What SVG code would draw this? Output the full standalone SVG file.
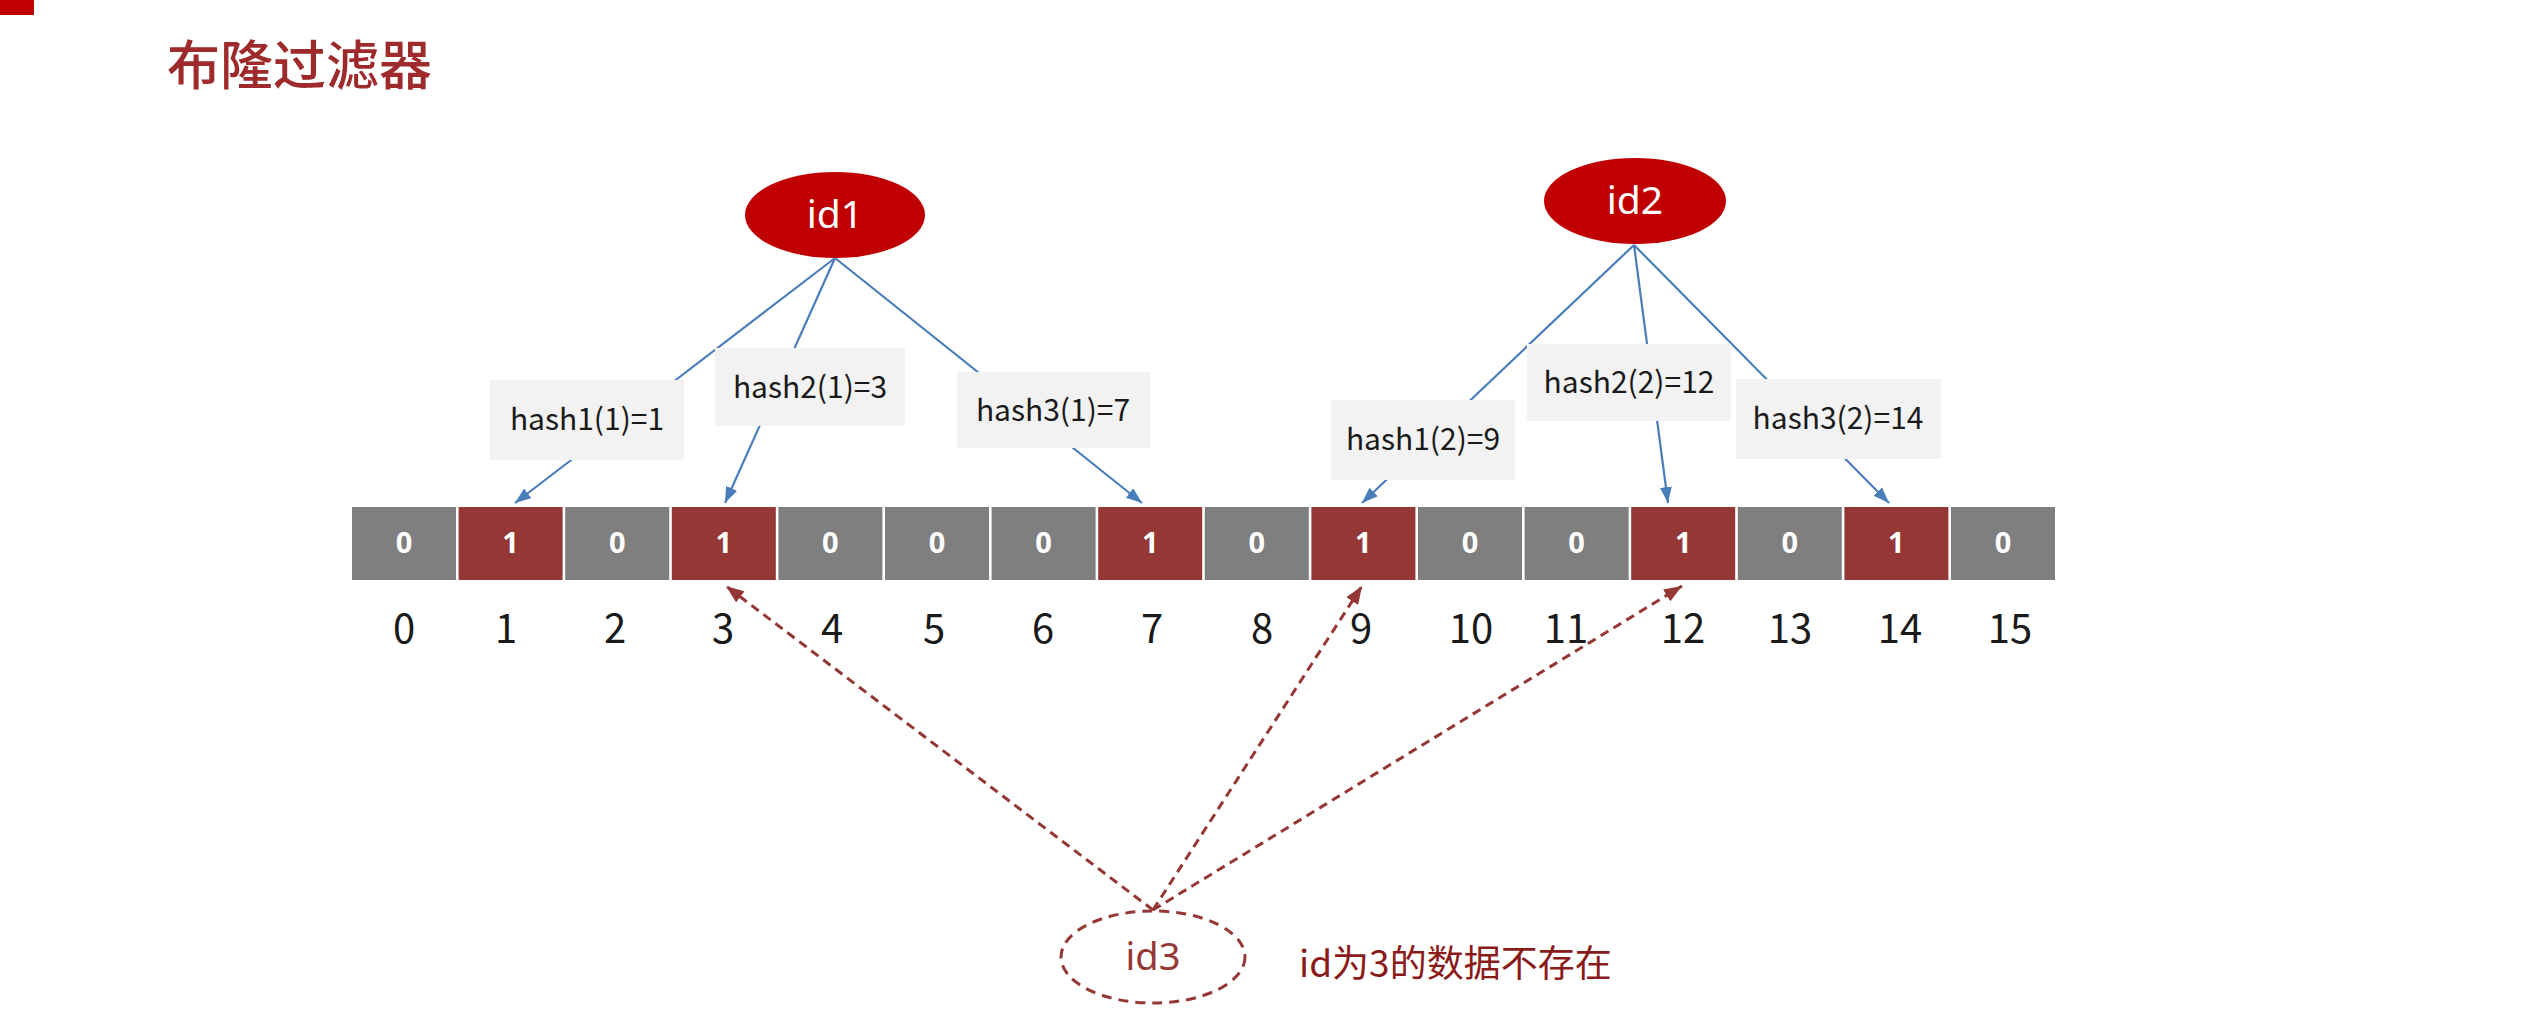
<svg xmlns="http://www.w3.org/2000/svg" width="2546" height="1013" viewBox="0 0 2546 1013">
<style>
  .cjk { font-family: "Noto Sans CJK SC", "Noto Sans", sans-serif; }
  .cell0 { fill: #7F7F7F; }
  .cell1 { fill: #953735; }
  .bit { font-family: "Noto Sans", "Noto Sans CJK SC", sans-serif; font-size: 29px; font-weight: bold; fill: #FFFFFF; text-anchor: middle; }
  .idx { font-family: "Noto Sans CJK SC", "Noto Sans", sans-serif; font-size: 40px; fill: #1A1A1A; text-anchor: middle; }
  .lbox { fill: #F2F2F2; }
  .ltxt { font-family: "Noto Sans CJK SC", "Noto Sans", sans-serif; font-size: 30px; fill: #1A1A1A; text-anchor: middle; }
  .blue { stroke: #4A7EBB; stroke-width: 2.2; fill: none; marker-end: url(#ab); }
  .dash { stroke: #953735; stroke-width: 3; fill: none; stroke-dasharray: 9 6; marker-end: url(#ar); }
  .idnode { fill: #C00000; }
  .idtxt { font-family: "Noto Sans", "Noto Sans CJK SC", sans-serif; font-size: 39px; fill: #FFFFFF; text-anchor: middle; }
</style>
<defs>
  <marker id="ab" markerUnits="userSpaceOnUse" markerWidth="16" markerHeight="12" refX="16" refY="6" orient="auto">
    <path d="M0,0 L16,6 L0,12 z" fill="#4A7EBB"/>
  </marker>
  <marker id="ar" markerUnits="userSpaceOnUse" markerWidth="18" markerHeight="14" refX="18" refY="7" orient="auto">
    <path d="M0,0 L18,7 L0,14 z" fill="#953735"/>
  </marker>
</defs>
<rect x="0" y="0" width="34" height="15" fill="#C00000"/>
<text class="cjk" x="167" y="85" font-size="53" font-weight="500" fill="#9E2A2B">布隆过滤器</text>

<g id="connectors">
  <line class="blue" x1="835" y1="258" x2="515" y2="503"/>
  <line class="blue" x1="835" y1="258" x2="725" y2="503"/>
  <line class="blue" x1="835" y1="258" x2="1142" y2="503"/>
  <line class="blue" x1="1634" y1="245" x2="1362" y2="503"/>
  <line class="blue" x1="1634" y1="245" x2="1668" y2="503"/>
  <line class="blue" x1="1634" y1="245" x2="1889" y2="503"/>
  <line class="dash" x1="1153" y1="910" x2="726" y2="586"/>
  <line class="dash" x1="1153" y1="910" x2="1362" y2="586"/>
  <line class="dash" x1="1153" y1="910" x2="1682" y2="586"/>
</g>

<g id="id1"><ellipse class="idnode" cx="835" cy="215" rx="90" ry="43"/><text class="idtxt" x="835" y="228">id1</text></g>
<g id="id2"><ellipse class="idnode" cx="1635" cy="201" rx="91" ry="43"/><text class="idtxt" x="1635" y="214">id2</text></g>

<g id="h11"><rect class="lbox" x="490" y="380" width="194" height="80"/><text class="ltxt" x="587" y="430">hash1(1)=1</text></g>
<g id="h21"><rect class="lbox" x="715" y="348" width="190" height="78"/><text class="ltxt" x="810" y="398">hash2(1)=3</text></g>
<g id="h31"><rect class="lbox" x="957" y="372" width="193" height="76"/><text class="ltxt" x="1053" y="421">hash3(1)=7</text></g>
<g id="h12"><rect class="lbox" x="1331" y="400" width="184" height="80"/><text class="ltxt" x="1423" y="450">hash1(2)=9</text></g>
<g id="h22"><rect class="lbox" x="1527" y="344" width="204" height="77"/><text class="ltxt" x="1629" y="393">hash2(2)=12</text></g>
<g id="h32"><rect class="lbox" x="1736" y="379" width="205" height="80"/><text class="ltxt" x="1838" y="429">hash3(2)=14</text></g>

<g id="array">
  <rect class="cell0" x="352" y="507" width="104" height="73"/><text class="bit" x="404" y="553">0</text>
  <rect class="cell1" x="458.6" y="507" width="104" height="73"/><text class="bit" x="510.6" y="553">1</text>
  <rect class="cell0" x="565.2" y="507" width="104" height="73"/><text class="bit" x="617.2" y="553">0</text>
  <rect class="cell1" x="671.8" y="507" width="104" height="73"/><text class="bit" x="723.8" y="553">1</text>
  <rect class="cell0" x="778.4" y="507" width="104" height="73"/><text class="bit" x="830.4" y="553">0</text>
  <rect class="cell0" x="885" y="507" width="104" height="73"/><text class="bit" x="937" y="553">0</text>
  <rect class="cell0" x="991.6" y="507" width="104" height="73"/><text class="bit" x="1043.6" y="553">0</text>
  <rect class="cell1" x="1098.2" y="507" width="104" height="73"/><text class="bit" x="1150.2" y="553">1</text>
  <rect class="cell0" x="1204.8" y="507" width="104" height="73"/><text class="bit" x="1256.8" y="553">0</text>
  <rect class="cell1" x="1311.4" y="507" width="104" height="73"/><text class="bit" x="1363.4" y="553">1</text>
  <rect class="cell0" x="1418" y="507" width="104" height="73"/><text class="bit" x="1470" y="553">0</text>
  <rect class="cell0" x="1524.6" y="507" width="104" height="73"/><text class="bit" x="1576.6" y="553">0</text>
  <rect class="cell1" x="1631.2" y="507" width="104" height="73"/><text class="bit" x="1683.2" y="553">1</text>
  <rect class="cell0" x="1737.8" y="507" width="104" height="73"/><text class="bit" x="1789.8" y="553">0</text>
  <rect class="cell1" x="1844.4" y="507" width="104" height="73"/><text class="bit" x="1896.4" y="553">1</text>
  <rect class="cell0" x="1951" y="507" width="104" height="73"/><text class="bit" x="2003" y="553">0</text>
</g>

<g id="indices">
  <text class="idx" x="404" y="643">0</text>
  <text class="idx" x="506" y="643">1</text>
  <text class="idx" x="615" y="643">2</text>
  <text class="idx" x="723" y="643">3</text>
  <text class="idx" x="832" y="643">4</text>
  <text class="idx" x="934" y="643">5</text>
  <text class="idx" x="1043" y="643">6</text>
  <text class="idx" x="1152" y="643">7</text>
  <text class="idx" x="1262" y="643">8</text>
  <text class="idx" x="1361" y="643">9</text>
  <text class="idx" x="1471" y="643">10</text>
  <text class="idx" x="1566" y="643">11</text>
  <text class="idx" x="1683" y="643">12</text>
  <text class="idx" x="1790" y="643">13</text>
  <text class="idx" x="1900" y="643">14</text>
  <text class="idx" x="2010" y="643">15</text>
</g>

<g id="id3">
  <ellipse cx="1153" cy="957" rx="92" ry="46" fill="#FFFFFF" stroke="#953735" stroke-width="3" stroke-dasharray="10 7"/>
  <text x="1153" y="970" font-family="Noto Sans, Noto Sans CJK SC, sans-serif" font-size="38" fill="#953735" text-anchor="middle">id3</text>
</g>
<text class="cjk" x="1299" y="977" font-size="37" fill="#8B1A1A">id为3的数据不存在</text>
</svg>
